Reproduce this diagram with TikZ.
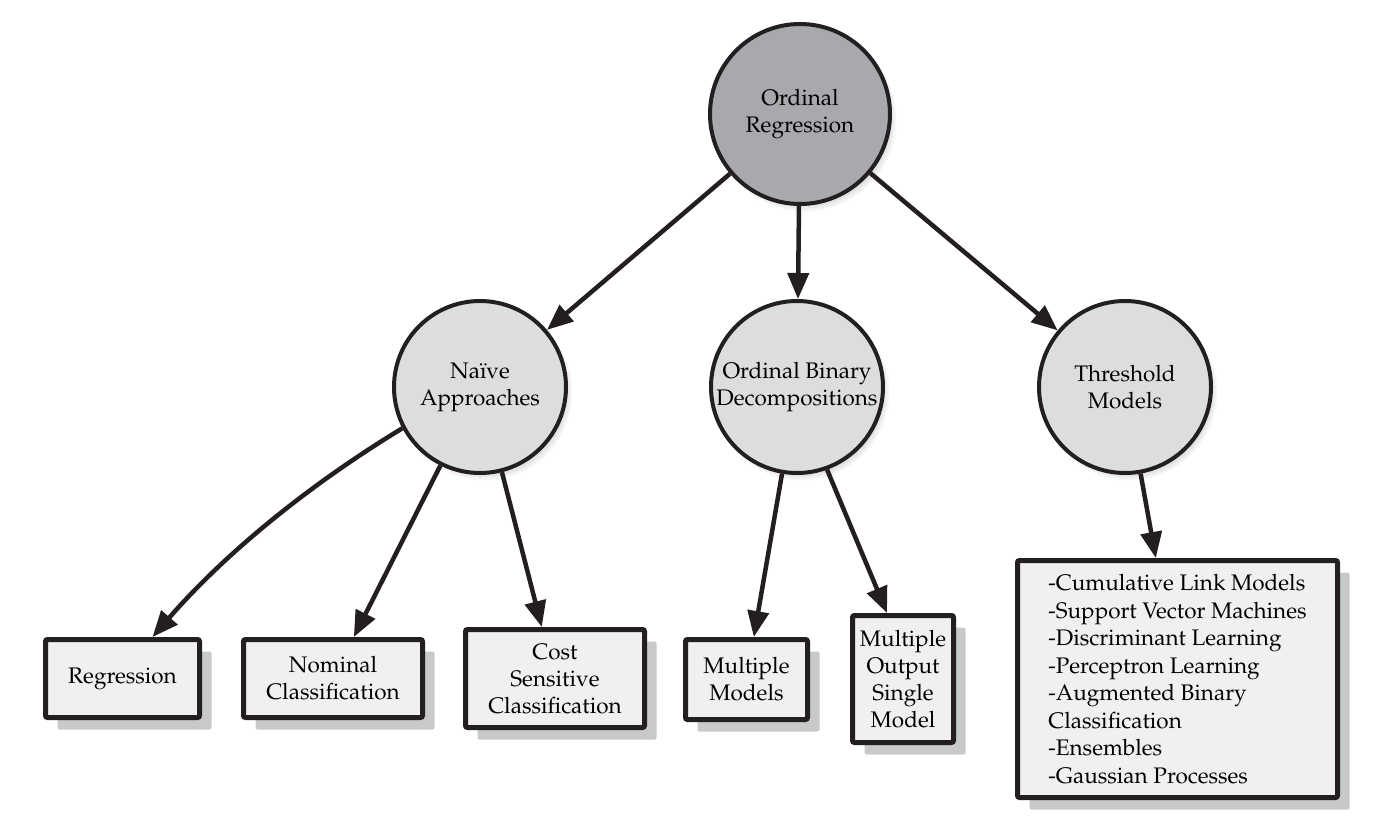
\documentclass[tikz,border=0pt]{standalone}
\usepackage[T1]{fontenc}
\usepackage{mathpazo}
\usetikzlibrary{arrows.meta,shadows}
\definecolor{linec}{HTML}{231F20}
\definecolor{topfill}{HTML}{A8A9AD}
\definecolor{circfill}{HTML}{DCDDDF}
\definecolor{boxfill}{HTML}{F0F0F0}
\definecolor{shadowc}{HTML}{C8C9CB}
\tikzset{
  circnode/.style={circle, draw=linec, line width=4pt, fill=circfill, inner sep=0pt,
    minimum size=172pt, align=center, font=\fontsize{22.5}{27}\selectfont,
    circular drop shadow={shadow xshift=4pt, shadow yshift=-5pt, shadow scale=1.03, opacity=0.45}},
  boxnode/.style={rectangle, rounded corners=2pt, draw=linec, line width=5pt, fill=boxfill,
    inner sep=0pt, align=center, font=\fontsize{22.5}{27}\selectfont,
    drop shadow={shadow xshift=12pt, shadow yshift=-12pt, fill=shadowc, opacity=1}},
  conn/.style={draw=linec, line width=4.5pt, -{Triangle[length=26pt,width=21pt]}}
}
\begin{document}
\begin{tikzpicture}[x=1pt,y=-1pt]
\useasboundingbox (0,0) rectangle (1400,828);
% circles
\node[circnode, fill=topfill, minimum size=180pt] (OR) at (800,114) {Ordinal\\Regression};
\node[circnode] (NA) at (480,387) {Na\"{\i}ve\\Approaches};
\node[circnode] (OB) at (797,387) {Ordinal Binary\\Decompositions};
\node[circnode] (TM) at (1125,387) {Threshold\\Models};
% boxes
\node[boxnode, minimum width=154pt, minimum height=78pt] (RG) at (122.5,678.5) {Regression};
\node[boxnode, minimum width=179pt, minimum height=78pt] (NC) at (333,678.5) {Nominal\\Classification};
\node[boxnode, minimum width=179pt, minimum height=98pt] (CS) at (555,678.5) {Cost\\Sensitive\\Classification};
\node[boxnode, minimum width=122pt, minimum height=80pt] (MM) at (746.5,679.5) {Multiple\\Models};
\node[boxnode, minimum width=101pt, minimum height=127pt] (MO) at (903,679) {Multiple\\Output\\Single\\Model};
\node[boxnode, minimum width=320pt, minimum height=237pt, align=left,
  font=\fontsize{22.5}{27.5}\selectfont] (TB) at (1177.5,679)
  {-Cumulative Link Models\\-Support Vector Machines\\-Discriminant Learning\\-Perceptron Learning\\-Augmented Binary\\Classification\\-Ensembles\\-Gaussian Processes};
% connectors
\draw[conn] (OR) -- (NA);
\draw[conn] (OR) -- (OB);
\draw[conn] (OR) -- (TM);
\draw[conn] (NA.208) .. controls +(-94,57) and +(72,-83) .. ([xshift=30pt]RG.north);
\draw[conn] (NA) -- (NC);
\draw[conn] (NA) -- (CS);
\draw[conn] (OB) -- (MM);
\draw[conn] (OB.-70) -- ([xshift=-16pt]MO.north);
\draw[conn] (TM) -- (TB);
\end{tikzpicture}
\end{document}
